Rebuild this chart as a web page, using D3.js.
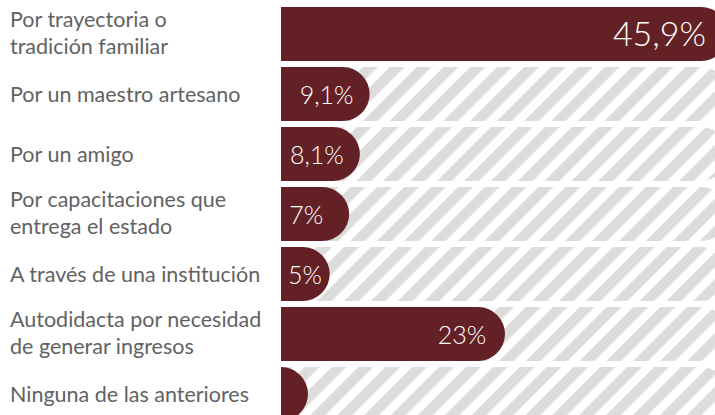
<!DOCTYPE html>
<html><head><meta charset="utf-8">
<script src="https://cdn.jsdelivr.net/npm/d3@7"></script>
<style>
html,body{margin:0;padding:0;background:#fff;}
svg{display:block;}
</style></head>
<body>
<svg id="chart" width="715" height="415"></svg>
<script>
const categories = [
  "Por trayectoria o\ntradición familiar",
  "Por un maestro artesano",
  "Por un amigo",
  "Por capacitaciones que\nentrega el estado",
  "A través de una institución",
  "Autodidacta por necesidad\nde generar ingresos",
  "Ninguna de las anteriores"
];
const values = [45.9, 9.1, 8.1, 7, 5, 23, 1.9];
const valueLabels = ["45,9%", "9,1%", "8,1%", "7%", "5%", "23%", ""];

const W = 715, H = 415;
const barColor = "#632125", textColor = "#626262", hatch = "#dcdcdc";
const svg = d3.select("#chart");
const defs = svg.append("defs");
const pat = defs.append("pattern").attr("id","hatch")
  .attr("patternUnits","userSpaceOnUse").attr("width",19).attr("height",19)
  .attr("patternTransform","rotate(45)");
pat.append("rect").attr("width",19).attr("height",19).attr("fill","#fff");
pat.append("rect").attr("x",0).attr("width",10.5).attr("height",19).attr("fill",hatch);

const x = d3.scaleLinear().domain([0, d3.max(values)]).range([281, 728]);
const y = d3.scaleBand().domain(d3.range(categories.length)).range([4, 424])
  .paddingInner(0.1).paddingOuter(0.05);
const h = y.bandwidth(), r = h/2, x0 = x(0);

function barPath(x1, yy){
  const xe = Math.max(x1, x0 + r);
  return `M${x0},${yy}H${xe-r}A${r},${r} 0 0 1 ${xe-r},${yy+h}H${x0}Z`;
}

const rows = svg.selectAll("g.row").data(values).join("g").attr("class","row");
rows.append("path").attr("d",(d,i)=>barPath(x(d3.max(values)), y(i))).attr("fill","url(#hatch)");
rows.append("path").attr("d",(d,i)=>barPath(x(d), y(i))).attr("fill",barColor);

// category labels
rows.each(function(d,i){
  const lines = categories[i].split("\n");
  const cy = y(i) + h/2;
  const t = d3.select(this).append("text")
    .attr("font-family","Lato, 'Open Sans', sans-serif").attr("font-size",21.5)
    .attr("fill",textColor);
  lines.forEach((ln,k)=>{
    const base = lines.length === 1 ? cy + 8 : cy - 7 + k*27;
    t.append("tspan").attr("x",10).attr("y",base).text(ln);
  });
});

// value labels
const maxV = d3.max(values);
rows.each(function(d,i){
  if(!valueLabels[i]) return;
  const cy = y(i) + h/2;
  const g = d3.select(this);
  if(d === maxV){
    g.append("text").attr("x", x(d)-22).attr("y", cy+12)
      .attr("text-anchor","end").attr("font-family","Lato, sans-serif")
      .attr("font-weight",300)
      .attr("font-size",34).attr("fill","#fff").text(valueLabels[i]);
  } else {
    const t = g.append("text").attr("y", cy+10)
      .attr("font-family","Lato, sans-serif").attr("font-size",25)
      .attr("font-weight",300)
      .attr("fill","#fff").text(valueLabels[i]);
    const w = t.node().getComputedTextLength();
    const cx = x(d) - 43;
    t.attr("x", Math.max(cx - w/2, 288));
  }
});
</script>
</body></html>
